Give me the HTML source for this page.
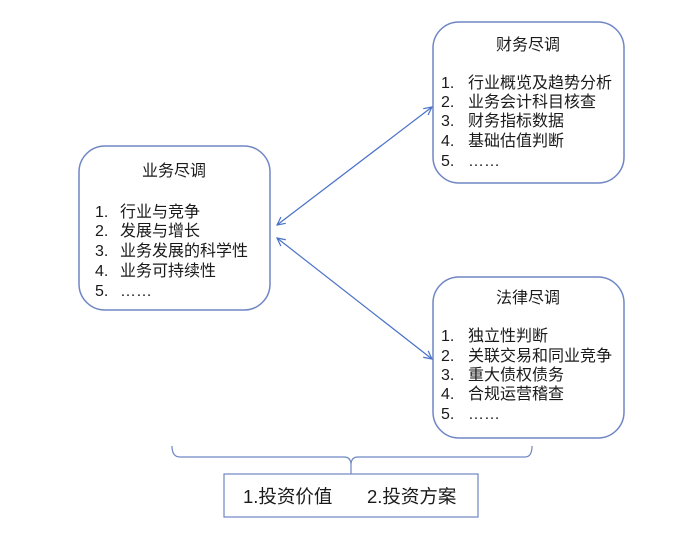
<!DOCTYPE html>
<html><head><meta charset="utf-8"><style>
body{margin:0;width:692px;height:536px;background:#fff;overflow:hidden}
svg text{font-family:"Liberation Sans","Noto Sans CJK SC",sans-serif;font-size:16px;fill:#1a1a1a}
</style></head><body>
<svg width="692" height="536" viewBox="0 0 692 536">
<defs><marker id="a" markerWidth="10" markerHeight="10" refX="9" refY="5" orient="auto-start-reverse" markerUnits="userSpaceOnUse"><path d="M1,1 L9,5 L1,9" fill="none" stroke="#4a72c8" stroke-width="1.2"/></marker></defs>
<g fill="none" stroke="#6f86c4" stroke-width="1.5">
<rect x="79" y="146" width="191" height="164" rx="26"/>
<rect x="433" y="22" width="191" height="161" rx="26"/>
<rect x="433" y="277" width="191" height="161" rx="26"/>
<rect x="224" y="474" width="254" height="43" stroke-width="1.2"/>
<path d="M172,446 Q172,457 180,457 L344,457 Q351,457 351,465 L351,474 M351,465 Q351,457 358,457 L525,457 Q532,457 532,446" stroke-width="1.2"/>
</g>
<g stroke="#4a72c8" stroke-width="1.2">
<line x1="277" y1="225" x2="432" y2="107" marker-start="url(#a)" marker-end="url(#a)"/>
<line x1="277" y1="238" x2="432" y2="359" marker-start="url(#a)" marker-end="url(#a)"/>
</g>
<text x="174" y="176" text-anchor="middle">业务尽调</text>
<text x="95" y="217">1.</text><text x="120" y="217">行业与竞争</text>
<text x="95" y="236">2.</text><text x="120" y="236">发展与增长</text>
<text x="95" y="256">3.</text><text x="120" y="256">业务发展的科学性</text>
<text x="95" y="276">4.</text><text x="120" y="276">业务可持续性</text>
<text x="95" y="296">5.</text><text x="120" y="296">……</text>
<text x="528" y="50" text-anchor="middle">财务尽调</text>
<text x="441" y="88">1.</text><text x="468" y="88">行业概览及趋势分析</text>
<text x="441" y="107">2.</text><text x="468" y="107">业务会计科目核查</text>
<text x="441" y="126">3.</text><text x="468" y="126">财务指标数据</text>
<text x="441" y="146">4.</text><text x="468" y="146">基础估值判断</text>
<text x="441" y="166">5.</text><text x="468" y="166">……</text>
<text x="528" y="303" text-anchor="middle">法律尽调</text>
<text x="441" y="341">1.</text><text x="468" y="341">独立性判断</text>
<text x="441" y="361">2.</text><text x="468" y="361">关联交易和同业竞争</text>
<text x="441" y="380">3.</text><text x="468" y="380">重大债权债务</text>
<text x="441" y="399">4.</text><text x="468" y="399">合规运营稽查</text>
<text x="441" y="419">5.</text><text x="468" y="419">……</text>
<text x="243" y="503" style="font-size:18.5px">1.投资价值</text>
<text x="367" y="503" style="font-size:18.5px">2.投资方案</text>
</svg>
</body></html>
